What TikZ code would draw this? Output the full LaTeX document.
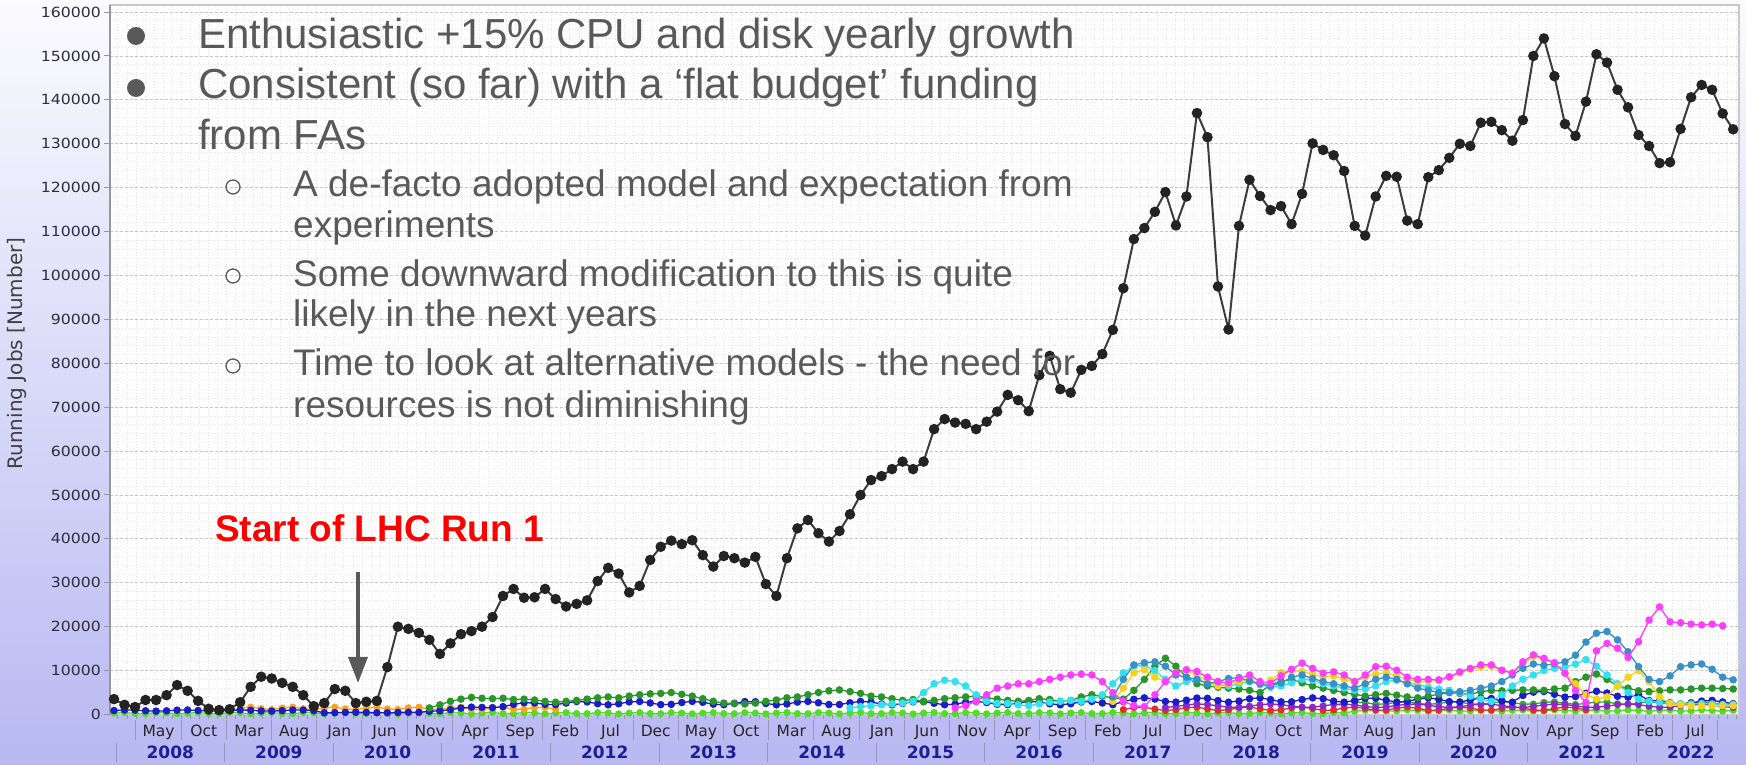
\documentclass[tikz,border=0pt]{standalone}
\usepackage{fontspec}
\setmainfont{Liberation Sans}
\newfontfamily\chartfont{DejaVu Sans}
\usetikzlibrary{arrows.meta}

\definecolor{bgtop}{RGB}{251,251,254}
\definecolor{bgbot}{RGB}{184,184,243}
\definecolor{slidetext}{RGB}{89,89,89}
\definecolor{gridmaj}{RGB}{200,200,200}
\definecolor{gridmin}{RGB}{228,228,228}
\definecolor{framegray}{RGB}{200,200,200}
\definecolor{axisgray}{RGB}{150,150,160}
\definecolor{ticklab}{RGB}{45,45,60}
\definecolor{yearblue}{RGB}{30,30,150}
\definecolor{sepgray}{RGB}{150,150,190}
\definecolor{runline}{RGB}{60,60,60}
\definecolor{rundot}{RGB}{35,35,35}
\definecolor{sBlue}{RGB}{28,28,200}
\definecolor{sLgreen}{RGB}{80,220,40}
\definecolor{sMgreen}{RGB}{50,170,50}
\definecolor{sDgreen}{RGB}{40,150,40}
\definecolor{sOrange}{RGB}{255,160,30}
\definecolor{sRed}{RGB}{225,45,45}
\definecolor{sPurple}{RGB}{140,40,200}
\definecolor{sCyan}{RGB}{50,225,240}
\definecolor{sYellow}{RGB}{245,210,30}
\definecolor{sTeal}{RGB}{55,145,200}
\definecolor{sMagenta}{RGB}{255,60,255}

% one data point every 10.514pt starting at x=114; 1k jobs = 4.39pt above the zero line
\newcommand\plotseries[5]{% prefix, colour, first index, dot radius, values (k)
  \foreach \v [count=\k from #3] in {#5} {
    \coordinate (#1\k) at ({114+10.514*\k},{50.5+4.39*\v});
    \xdef\lastidx{\k}
  }
  \pgfmathtruncatemacro\nextidx{#3+1}
  \draw[#2, serie] (#1#3) \foreach \k in {\nextidx,...,\lastidx} { -- (#1\k) };
  \foreach \k in {#3,...,\lastidx} \fill[#2] (#1\k) circle[radius=#4];
}
\newcommand\formseries[6]{% prefix, colour, first, last, dot radius, formula in \k
  \foreach \k in {#3,...,#4} {
    \pgfmathsetmacro\v{#6}
    \coordinate (#1\k) at ({114+10.514*\k},{50.5+4.39*\v});
  }
  \pgfmathtruncatemacro\nextidx{#3+1}
  \draw[#2, serie] (#1#3) \foreach \k in {\nextidx,...,#4} { -- (#1\k) };
  \foreach \k in {#3,...,#4} \fill[#2] (#1\k) circle[radius=#5];
}

\begin{document}
\begin{tikzpicture}[x=1pt,y=1pt,
  serie/.style={line width=1.3pt, line join=round},
  yticklab/.style={font=\chartfont\fontsize{14}{14}\selectfont, text=ticklab, anchor=east, inner sep=0pt, xscale=1.12},
  monthlab/.style={font=\chartfont\fontsize{15.5}{15.5}\selectfont, text=black!85, anchor=base, inner sep=0pt},
  yearlab/.style={font=\chartfont\bfseries\fontsize{17}{17}\selectfont, text=yearblue, anchor=base, inner sep=0pt},
  mainline/.style={font=\fontsize{42}{50}\selectfont, text=slidetext, anchor=base west, inner sep=0pt},
  subline/.style={font=\fontsize{37}{44}\selectfont, text=slidetext, anchor=base west, inner sep=0pt},
  bigdot/.style={circle, fill=slidetext, minimum size=18pt, inner sep=0pt},
  ringdot/.style={circle, draw=slidetext, line width=1.3pt, minimum size=14pt, inner sep=0pt}]

\useasboundingbox (0,0) rectangle (1746,765);
\shade[top color=bgtop, bottom color=bgbot] (0,0) rectangle (1746,765);

% plotting area and grid
\fill[white] (110,50) rectangle (1739,760);
\foreach \j in {1,...,80}
  \draw[gridmin, line width=0.8pt, dash pattern=on 1pt off 2pt] (110,{50.5+8.78*\j}) -- (1739,{50.5+8.78*\j});
\foreach \m in {2,...,181}
  \draw[gridmin, line width=0.8pt, dash pattern=on 1pt off 2pt] ({99.8+9.04*\m},50) -- ({99.8+9.04*\m},760);
\foreach \j in {1,...,16}
  \draw[gridmaj, line width=0.8pt, dash pattern=on 3pt off 2pt] (110,{50.5+43.9*\j}) -- (1739,{50.5+43.9*\j});
\draw[framegray, line width=1.5pt] (110,50) rectangle (1739,760);
\draw[axisgray, line width=2pt] (110,50) -- (110,760);

% y axis
\foreach \j in {0,...,16} {
  \draw[axisgray, line width=1pt] (104,{50.5+43.9*\j}) -- (110,{50.5+43.9*\j});
  \node[yticklab] (yt\j) at (101,{50.5+43.9*\j}) {\ifnum\j=0 0\else\j0000\fi};
}
\node[font=\chartfont\fontsize{20}{20}\selectfont, text=black!75, rotate=90] (ytitle) at (17,411.5) {Running Jobs [Number]};

% time axis
\foreach \m in {2,...,181}
  \draw[axisgray, line width=0.8pt] ({99.8+9.04*\m},50) -- ({99.8+9.04*\m},46);
\foreach \k in {0,...,35}
  \draw[sepgray, line width=1pt] ({99.8+9.04*(4+5*\k)},45) -- ({99.8+9.04*(4+5*\k)},25);
\foreach \lab [count=\k from 0] in {May,Oct,Mar,Aug,Jan,Jun,Nov,Apr,Sep,Feb,Jul,Dec,
    May,Oct,Mar,Aug,Jan,Jun,Nov,Apr,Sep,Feb,Jul,Dec,
    May,Oct,Mar,Aug,Jan,Jun,Nov,Apr,Sep,Feb,Jul}
  \node[monthlab] (ml\k) at ({99.8+9.04*(4+5*\k)+22.6},28) {\lab};
\foreach \k in {0,...,14}
  \draw[sepgray, line width=1pt] ({116+108.6*\k},22) -- ({116+108.6*\k},3);
\foreach \yr [count=\k from 0] in {2008,...,2022}
  \node[yearlab] (yl\k) at ({170.3+108.6*\k},6) {\yr};

% per-site series
\formseries{lg}{sLgreen}{0}{154}{3.6pt}{ifthenelse(\k<118,0.3,0.9)+0.15*sin(103*\k)}
\formseries{mg}{sMgreen}{118}{154}{3.6pt}{2.6+0.3*sin(77*\k)}
\formseries{or}{sOrange}{12}{42}{3.6pt}{1.4+0.3*sin(91*\k)}
\formseries{rd}{sRed}{96}{140}{3.6pt}{1.3+0.4*sin(71*\k)}
\formseries{pu}{sPurple}{100}{154}{3.6pt}{2.0+0.4*sin(53*\k+20)}
\formseries{bl}{sBlue}{0}{154}{3.8pt}{(ifthenelse(\k<20,0.9,ifthenelse(\k<30,0.45,ifthenelse(\k<41,0.8+0.17*(\k-30),ifthenelse(\k<96,2.6,ifthenelse(\k<134,3.3,ifthenelse(\k<146,4.6,2.8)))))))*(1+0.15*sin(67*\k))}

\plotseries{dg}{sDgreen}{30}{3.8pt}{1.5,2.2,3.0,3.5,3.9,3.7,3.6,3.7,3.4,3.5,
  3.3,3.0,2.8,3.0,3.2,3.5,3.8,4.0,3.8,4.2,
  4.5,4.7,4.8,5.0,4.6,4.2,3.6,3.0,2.6,2.5,
  2.4,2.6,3.0,3.3,3.8,4.0,4.5,5.0,5.4,5.6,
  5.2,4.8,4.2,4.0,3.6,3.2,3.4,3.0,3.2,3.6,
  3.8,4.0,4.2,3.8,3.5,3.2,3.0,3.2,3.6,3.4,
  3.0,3.2,4.0,4.5,4.2,3.8,3.5,5.5,8.0,11.0,
  12.8,11.0,8.5,7.0,6.5,6.2,6.0,5.8,5.5,5.0,
  6.8,7.5,8.0,7.2,6.5,6.0,5.5,5.0,4.6,4.2,
  4.5,4.8,4.4,4.0,3.8,4.2,4.6,5.0,4.8,4.6,
  5.2,5.5,5.4,5.5,5.6,5.6,5.5,5.8,6.0,7.5,
  8.5,9.2,8.0,6.5,6.0,5.4,5.2,5.4,5.6,5.6,
  5.8,6.0,6.0,5.9,5.8}

\plotseries{cy}{sCyan}{70}{3.8pt}{1.5,1.8,2.0,2.2,2.4,2.6,3.0,5.0,7.0,7.8,
  7.5,6.5,4.5,3.0,2.5,2.5,2.2,2.0,2.4,2.8,
  3.0,3.2,3.0,3.5,4.5,7.0,9.5,11.0,11.2,10.0,
  8.0,6.5,7.5,8.0,7.2,6.8,6.5,7.0,7.5,6.8,
  6.2,6.5,7.2,8.0,7.8,7.0,6.5,6.0,5.5,5.8,
  6.5,7.5,7.8,7.2,6.8,6.2,5.8,5.5,5.0,4.2,
  3.5,3.0,4.5,6.5,8.0,9.0,10.0,10.5,10.8,11.5,
  12.5,11.0,9.0,7.0,5.0,3.5,3.0,2.8,2.6,2.5,
  2.4,2.5,2.4,2.3,2.3}

\plotseries{ye}{sYellow}{95}{3.8pt}{3.0,6.0,9.5,10.2,8.5,7.5,9.5,10.0,9.0,7.5,
  6.5,7.0,7.5,8.0,7.0,7.8,9.5,10.0,9.8,9.2,
  8.5,8.8,8.0,7.5,8.5,9.2,9.5,8.8,8.0,7.5,
  7.6,7.8,8.5,9.5,10.3,10.8,11.0,10.0,9.5,11.5,
  13.2,12.6,11.5,9.5,7.0,4.5,3.5,4.0,6.5,8.5,
  10.0,7.5,4.0,2.5,2.2,2.0,2.0,2.0,2.0,2.0}

\plotseries{te}{sTeal}{95}{3.8pt}{4.0,8.0,11.3,11.8,12.0,11.0,9.0,8.5,8.0,7.0,
  7.5,8.2,8.4,7.6,7.0,6.5,7.2,8.5,9.0,8.2,
  7.5,7.0,6.5,6.0,7.0,8.0,8.5,8.0,7.0,6.0,
  5.5,5.0,5.0,5.2,5.5,6.0,6.5,7.5,9.0,10.5,
  11.5,11.2,11.5,12.0,13.5,16.5,18.5,18.9,17.0,14.3,
  10.9,8.0,7.5,8.8,10.9,11.3,11.5,10.3,8.5,7.9}

\plotseries{ma}{sMagenta}{80}{3.8pt}{1.5,2.0,3.0,4.5,6.0,6.5,7.0,7.0,7.5,8.0,
  8.5,9.0,9.2,9.0,7.5,5.0,3.0,2.0,1.8,4.5,
  7.5,9.5,10.2,9.8,8.5,7.5,7.2,8.2,9.0,7.5,
  7.1,8.8,10.3,11.7,10.5,9.4,9.7,9.0,7.5,9.0,
  10.9,11.0,10.1,8.5,8.0,8.0,7.9,8.6,9.7,10.5,
  11.3,11.3,10.1,9.4,12.0,13.6,12.8,11.8,9.4,5.5,
  2.7,14.5,16.2,15.1,13.0,16.6,21.5,24.5,21.1,20.9,
  20.6,20.4,20.6,20.2}

% total running jobs
\foreach \v [count=\k from 0] in {3.5,2.2,1.7,3.3,3.3,4.4,6.7,5.4,3.1,1.3,
  1.0,1.2,2.8,6.3,8.6,8.2,7.2,6.3,4.4,1.9,
  2.6,5.8,5.4,2.6,2.9,3.1,10.8,20.0,19.5,18.6,
  17.0,13.8,16.2,18.3,19.0,20.0,22.2,27.0,28.6,26.6,
  26.7,28.6,26.3,24.6,25.2,26.0,30.4,33.4,32.1,27.8,
  29.3,35.2,38.2,39.6,38.8,39.7,36.3,33.7,36.1,35.6,
  34.6,35.9,29.7,27.0,35.6,42.4,44.3,41.3,39.4,41.8,
  45.6,50.0,53.4,54.3,55.9,57.6,55.9,57.6,65.0,67.3,
  66.5,66.2,65.0,66.7,69.0,72.8,71.6,69.1,77.3,81.7,
  74.1,73.3,78.5,79.4,82.1,87.6,97.1,108.3,110.8,114.5,
  119.0,111.4,118.0,137.0,131.5,97.5,87.7,111.3,121.8,118.1,
  114.9,115.8,111.7,118.6,130.1,128.6,127.4,123.8,111.3,109.1,
  118.0,122.7,122.5,112.5,111.7,122.4,124.0,126.8,130.0,129.5,
  134.8,135.0,133.1,130.7,135.4,150.0,154.0,145.4,134.5,131.8,
  139.6,150.4,148.5,142.3,138.3,132.0,129.5,125.6,125.8,133.4,
  140.6,143.4,142.3,136.9,133.3}
  \coordinate (tot\k) at ({114+10.514*\k},{50.5+4.39*\v});
\draw[runline, line width=2pt, line join=round] (tot0) \foreach \k in {1,...,154} { -- (tot\k) };
\foreach \k in {0,...,154} \fill[rundot] (tot\k) circle[radius=5.3pt];

% annotation arrow
\node[font=\bfseries\fontsize{37}{44}\selectfont, text=red, anchor=base west, inner sep=0pt] (lhc) at (215,223) {Start of LHC Run 1};
\coordinate (arrowtop) at (358,193);
\coordinate (arrowtip) at (358,82);
\draw[slidetext, line width=3.5pt, -{Triangle[length=26pt,width=19pt]}] (arrowtop) -- (arrowtip);

% bullet text
\node[bigdot] (b1) at (136,729) {};
\node[bigdot] (b2) at (136,677) {};
\node[mainline] (l1) at (198,716) {Enthusiastic +15\% CPU and disk yearly growth};
\node[mainline] (l2) at (198,666) {Consistent (so far) with a ‘flat budget’ funding};
\node[mainline] (l3) at (198,615) {from FAs};
\node[ringdot] (s1) at (233,578) {};
\node[ringdot] (s2) at (233,489) {};
\node[ringdot] (s3) at (233,399) {};
\node[subline] (l4) at (293,568) {A de-facto adopted model and expectation from};
\node[subline] (l5) at (293,527) {experiments};
\node[subline] (l6) at (293,478) {Some downward modification to this is quite};
\node[subline] (l7) at (293,438) {likely in the next years};
\node[subline] (l8) at (293,389) {Time to look at alternative models - the need for};
\node[subline] (l9) at (293,347) {resources is not diminishing};
\end{tikzpicture}
\end{document}
